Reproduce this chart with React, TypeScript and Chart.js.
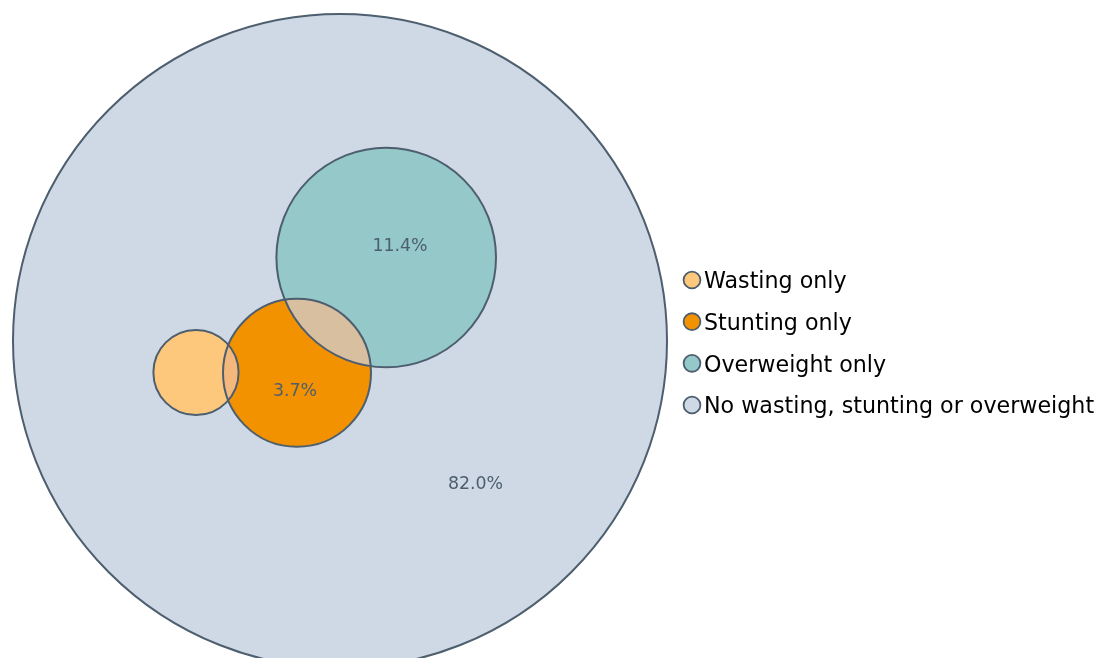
import React, { useEffect, useRef } from "react";
import { Chart, registerables } from "chart.js";

Chart.register(...registerables);

// Categories (legend order)
const categories = [
  "Wasting only",
  "Stunting only",
  "Overweight only",
  "No wasting, stunting or overweight",
];
// Circle centres and radii in diagram units (outer circle radius = 1)
const centerX = [-0.4404, -0.1315, 0.1413, 0.0];
const centerY = [-0.0963, -0.0972, 0.2554, 0.0];
const radii = [0.1303, 0.2263, 0.3358, 1.0];
const fillColors = ["#fdc87b", "#f39200", "#94c8c9", "#cfd9e5"];

// Overlaps: pairs of category indices and their fill colours
const overlapA = [0, 1];
const overlapB = [1, 2];
const overlapColors = ["#f4b87c", "#d7bf9f"];

// Value labels
const labelText = ["11.4%", "3.7%", "82.0%"];
const labelX = [0.1835, -0.1376, 0.4144];
const labelY = [0.2951, -0.1483, -0.4343];

const STROKE = "#4d5e6e";
const FONT = "'DejaVu Sans', sans-serif";

const vennPlugin = {
  id: "vennOverlay",
  afterDatasetsDraw(chart: any) {
    const ctx = chart.ctx;
    const xs = chart.scales.x;
    const ys = chart.scales.y;
    const el = (i: number) => {
      const p: any = chart.getDatasetMeta(i).data[0];
      const d: any = chart.data.datasets[i].data[0];
      return { x: p.x, y: p.y, r: d.r || 0 };
    };
    ctx.save();
    // overlaps
    for (let k = 0; k < overlapA.length; k++) {
      const a = el(overlapA[k]);
      const b = el(overlapB[k]);
      ctx.save();
      ctx.beginPath();
      ctx.arc(a.x, a.y, a.r, 0, Math.PI * 2);
      ctx.clip();
      ctx.beginPath();
      ctx.arc(b.x, b.y, b.r, 0, Math.PI * 2);
      ctx.fillStyle = overlapColors[k];
      ctx.fill();
      ctx.restore();
    }
    // outlines
    ctx.lineWidth = 2;
    ctx.strokeStyle = STROKE;
    for (let i = categories.length - 1; i >= 0; i--) {
      const c = el(i);
      if (c.r <= 0) continue;
      ctx.beginPath();
      ctx.arc(c.x, c.y, c.r, 0, Math.PI * 2);
      ctx.stroke();
    }
    // labels
    const labelSize = 17.4;
    ctx.fillStyle = STROKE;
    ctx.font = `${labelSize}px ${FONT}`;
    ctx.textAlign = "center";
    ctx.textBaseline = "alphabetic";
    for (let i = 0; i < labelText.length; i++) {
      ctx.fillText(
        labelText[i],
        xs.getPixelForValue(labelX[i]),
        ys.getPixelForValue(labelY[i]) + labelSize * 0.729 / 2
      );
    }
    // legend
    const lx = 692;
    const ly0 = 280;
    const step = 41.67;
    const legendSize = 22.2;
    ctx.font = `${legendSize}px ${FONT}`;
    ctx.textAlign = "left";
    ctx.textBaseline = "alphabetic";
    for (let i = 0; i < categories.length; i++) {
      const y = ly0 + i * step;
      ctx.beginPath();
      ctx.arc(lx, y, 8.4, 0, Math.PI * 2);
      ctx.fillStyle = fillColors[i];
      ctx.fill();
      ctx.lineWidth = 1.8;
      ctx.strokeStyle = STROKE;
      ctx.stroke();
      ctx.fillStyle = "#000000";
      ctx.fillText(categories[i], 704, y + 8.2);
    }
    ctx.restore();
  },
};

export default function App() {
  const ref = useRef<HTMLCanvasElement | null>(null);
  useEffect(() => {
    document.body.style.margin = "0";
    const W = 1097;
    const H = 658;
    const unit = 327;
    const cx = 340;
    const cy = 341;
    const datasets = categories.map((name, i) => ({
      label: name,
      data: [{ x: centerX[i], y: centerY[i], r: 0 }],
      backgroundColor: fillColors[i],
      borderColor: STROKE,
      borderWidth: 0,
      clip: false as any,
    }));
    const chart: any = new Chart(ref.current as HTMLCanvasElement, {
      type: "bubble",
      data: { datasets },
      options: {
        animation: false,
        responsive: false,
        events: [],
        layout: { padding: 0, autoPadding: false },
        plugins: { legend: { display: false }, tooltip: { enabled: false } },
        scales: {
          x: { type: "linear", display: false, min: -cx / unit, max: (W - cx) / unit },
          y: { type: "linear", display: false, min: -(H - cy) / unit, max: cy / unit },
        },
      },
      plugins: [vennPlugin],
    } as any);
    // convert radii (data units) to pixel bubble sizes through the x scale
    const xs = chart.scales.x;
    chart.data.datasets.forEach((ds: any, i: number) => {
      ds.data[0].r = xs.getPixelForValue(radii[i]) - xs.getPixelForValue(0);
    });
    chart.update();
    return () => chart.destroy();
  }, []);
  return <canvas ref={ref} width={1097} height={658} style={{ display: "block" }} />;
}
